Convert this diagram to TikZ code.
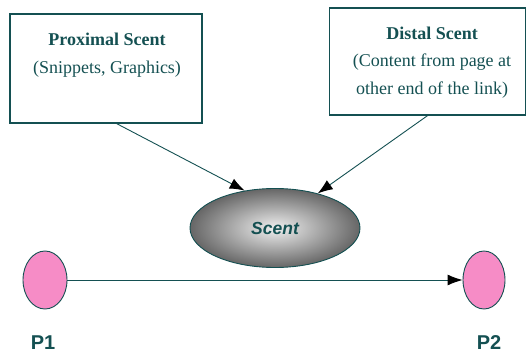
\documentclass[tikz,border=0pt]{standalone}
\usepackage{fontspec}
\setmainfont{Liberation Serif}
\setsansfont{Liberation Sans}
\usetikzlibrary{arrows.meta,shapes.geometric}

\definecolor{inkc}{RGB}{20,80,82}
\definecolor{pagepink}{RGB}{246,140,198}

\tikzset{
	scentbox/.style={draw=inkc, line width=1.3pt, rectangle, inner sep=0pt},
	boxtext/.style={text=inkc, align=center, font=\fontsize{18}{27.5}\selectfont, inner sep=0pt},
	pagenode/.style={draw=inkc, line width=0.9pt, ellipse, inner sep=0pt, fill=pagepink},
	pagelabel/.style={text=inkc, font=\sffamily\bfseries\fontsize{20}{22}\selectfont},
	scentlink/.style={draw=inkc, line width=0.9pt, -{Latex[length=15pt,width=11pt,color=black]}}
}

\begin{document}
\begin{tikzpicture}[x=1pt, y=-1pt]
			%%%%% START %%%%%
			\useasboundingbox (0, 0) rectangle (527, 356);
			
			% the two sources of scent
			\node[scentbox, minimum width=192pt, minimum height=109pt] (proxbox) at (106, 68.5) {};
			\node[boxtext, anchor=north] (proxtxt) at (107, 33) {\textbf{Proximal Scent}\\(Snippets, Graphics)};
			
			\node[scentbox, minimum width=196pt, minimum height=107pt] (distbox) at (427.5, 61.5) {};
			\node[boxtext, anchor=north] (disttxt) at (432, 26.5) {\textbf{Distal Scent}\\(Content from page at\\other end of the link)};
			
			% scent itself
			\node[draw=inkc, line width=0.9pt, ellipse, inner sep=0pt, minimum width=170pt, minimum height=79pt,
				shading=radial, inner color=black!6, outer color=black!60] (scent) at (275, 228)
				{\sffamily\bfseries\itshape\fontsize{17.5}{20}\selectfont\color{inkc}Scent};
			
			\draw[scentlink] (proxbox.-79) -- (scent.129);
			\draw[scentlink] (distbox.south) -- (scent.39);
			
			% the pages
			\node[pagenode, minimum width=44pt, minimum height=58pt] (p1) at (45, 280) {};
			\node[pagenode, minimum width=42pt, minimum height=58pt] (p2) at (484, 280) {};
			\draw[scentlink] (p1.east) -- (p2.west);
			
			\node[pagelabel] (p1lab) at (43, 343) {P1};
			\node[pagelabel] (p2lab) at (489, 343) {P2};
			%%%%% END %%%%%
\end{tikzpicture}
\end{document}
